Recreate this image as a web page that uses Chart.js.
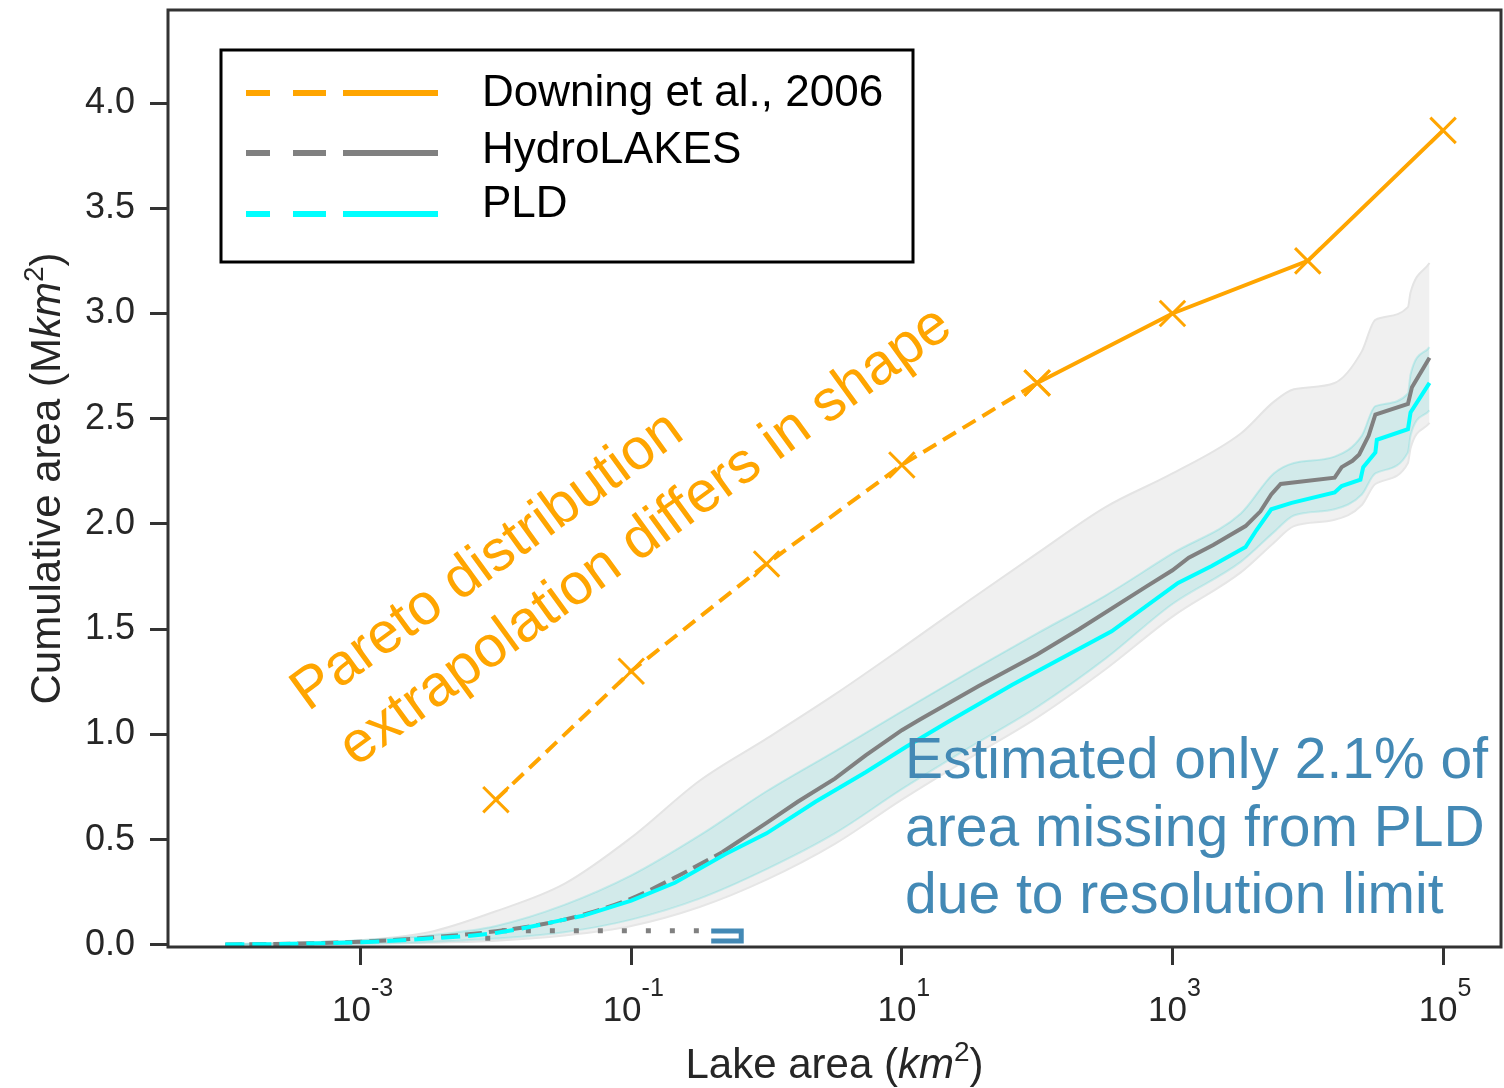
<!DOCTYPE html>
<html>
<head>
<meta charset="utf-8">
<title>Cumulative lake area</title>
<script src="https://cdn.jsdelivr.net/npm/chart.js@4/dist/chart.umd.min.js"></script>
<style>
  html, body { margin: 0; padding: 0; background: #fff; }
  #wrap { width: 1504px; height: 1088px; }
</style>
</head>
<body>
<div id="wrap"><canvas id="cumChart" width="1504" height="1088"></canvas></div>
<script>
// -- Data (lake area in km², cumulative area in million km²) --
const xTickValues = [1e-3, 1e-1, 1e1, 1e3, 1e5];
const yTickValues = [0, 0.5, 1, 1.5, 2, 2.5, 3, 3.5, 4];

// Downing et al. 2006 size classes (Pareto extrapolation below 100 km²)
const downingArea = [1e-2, 1e-1, 1, 10, 100, 1e3, 1e4, 1e5];
const downingCum  = [0.69, 1.30, 1.81, 2.28, 2.67, 3.00, 3.25, 3.87];
const downingObservedFrom = 100;

// HydroLAKES median curve
const hydroArea = [1e-4, 3.2e-4, 1e-3, 3.2e-3, 1e-2, 3.2e-2, 0.1, 0.21, 0.47, 1, 1.7, 3.2, 5.4, 10, 13.5, 37, 100, 204, 631, 1000,
                   1320, 2000, 3470, 4470, 5370, 6310, 15800, 17800, 21400, 24000, 28200, 31600, 55000, 58900, 79400];
const hydroCum  = [0.002, 0.006, 0.015, 0.035, 0.065, 0.12, 0.22, 0.32, 0.44, 0.58, 0.68, 0.79, 0.90, 1.02, 1.07, 1.23, 1.38, 1.50, 1.70, 1.78,
                   1.84, 1.90, 1.99, 2.06, 2.14, 2.19, 2.22, 2.27, 2.30, 2.33, 2.42, 2.52, 2.57, 2.65, 2.79];
const hydroObservedFrom = 0.47;

// PLD median curve
const pldArea = [1e-4, 3.2e-4, 1e-3, 3.2e-3, 1e-2, 0.045, 0.1, 0.21, 0.49, 1, 2.3, 5.4, 10.7, 22, 65, 355, 1100, 1950, 3470, 4170,
                 5370, 7600, 15800, 17800, 24500, 25700, 31600, 32400, 55000, 57500, 79400];
const pldCum  = [0.002, 0.005, 0.013, 0.03, 0.057, 0.14, 0.21, 0.295, 0.43, 0.53, 0.68, 0.82, 0.94, 1.06, 1.235, 1.49, 1.72, 1.80, 1.89, 1.97,
                 2.07, 2.10, 2.15, 2.18, 2.21, 2.27, 2.34, 2.40, 2.45, 2.53, 2.67];
const pldObservedFrom = 0.045;

// uncertainty ranges
const bandArea  = [1e-4, 3.2e-4, 1e-3, 3.2e-3, 1e-2, 3.2e-2, 0.1, 0.32, 1, 3.2, 10, 32, 100, 320, 1000, 3200, 5600, 7900, 15800, 25100, 31600, 55000, 57500, 79400];
const hydroHigh = [0.004, 0.01, 0.022, 0.06, 0.16, 0.29, 0.51, 0.78, 0.98, 1.19, 1.41, 1.64, 1.86, 2.08, 2.24, 2.43, 2.58, 2.64, 2.67, 2.82, 2.97, 3.03, 3.10, 3.24];
const hydroLow  = [0, 0.001, 0.004, 0.01, 0.02, 0.045, 0.09, 0.18, 0.31, 0.48, 0.69, 0.89, 1.08, 1.31, 1.56, 1.77, 1.91, 1.99, 2.02, 2.09, 2.19, 2.29, 2.36, 2.48];
const pldHigh   = [0.004, 0.01, 0.022, 0.045, 0.09, 0.19, 0.33, 0.52, 0.73, 0.92, 1.11, 1.30, 1.48, 1.66, 1.86, 2.05, 2.24, 2.29, 2.32, 2.42, 2.56, 2.62, 2.71, 2.84];
const pldLow    = [0, 0.002, 0.006, 0.014, 0.03, 0.06, 0.12, 0.22, 0.36, 0.53, 0.74, 0.94, 1.13, 1.36, 1.62, 1.82, 1.96, 2.04, 2.07, 2.14, 2.24, 2.34, 2.42, 2.54];

// missing area below the PLD resolution limit
const missingArea = [0.0087, 0.0087, 0.39];
const missingCum  = [0.02, 0.067, 0.067];
const bracketArea = [0.39, 0.65, 0.65, 0.39];
const bracketCum  = [0.066, 0.066, 0.019, 0.019];

// -- Colours / fonts --
const ORANGE = '#ffa500';
const GREY = '#808080';
const CYAN = '#00ffff';
const BLUE = '#4389b5';
const AXIS = '#333333';
const FONT = '"Liberation Sans", Arial, sans-serif';

const pts = (xs, ys) => xs.map((x, i) => ({ x: x, y: ys[i] }));
const before = (xs, ys, lim) => pts(xs, ys).filter(p => p.x <= lim);
const after = (xs, ys, lim) => pts(xs, ys).filter(p => p.x >= lim);

// draw a run of text pieces (normal / italic / superscript) centred on x
function drawRuns(ctx, runs, x, y) {
    let total = 0;
    runs.forEach(r => { ctx.font = r.font; r.w = ctx.measureText(r.t).width; total += r.w; });
    let cx = x - total / 2;
    runs.forEach(r => {
        ctx.font = r.font;
        ctx.fillText(r.t, cx, y + (r.dy || 0));
        cx += r.w;
    });
}

const annotate = {
    id: 'annotate',
    afterDraw(chart) {
        const { ctx, chartArea: a, scales: { x } } = chart;
        ctx.save();

        // frame
        ctx.strokeStyle = AXIS;
        ctx.lineWidth = 3;
        ctx.strokeRect(a.left, a.top, a.right - a.left, a.bottom - a.top);

        // x tick labels as powers of ten
        ctx.fillStyle = '#262626';
        ctx.textAlign = 'left';
        ctx.textBaseline = 'alphabetic';
        xTickValues.forEach(v => {
            const px = x.getPixelForValue(v);
            const e = Math.round(Math.log10(v));
            drawRuns(ctx, [
                { t: '10', font: '35px ' + FONT },
                { t: (e < 0 ? '-' : '') + Math.abs(e), font: '25px ' + FONT, dy: -25 }
            ], px + 2, 1021);
        });

        // axis titles
        const big = '42px ' + FONT, ital = 'italic 42px ' + FONT, sup = '28px ' + FONT;
        drawRuns(ctx, [
            { t: 'Lake area (', font: big },
            { t: 'km', font: ital },
            { t: '2', font: sup, dy: -17 },
            { t: ')', font: big }
        ], (a.left + a.right) / 2, 1078);

        ctx.save();
        ctx.translate(45, (a.top + a.bottom) / 2);
        ctx.rotate(-Math.PI / 2);
        drawRuns(ctx, [
            { t: 'Cumulative area (M', font: big },
            { t: 'km', font: ital },
            { t: '2', font: sup, dy: -17 },
            { t: ')', font: big }
        ], 0, 15);
        ctx.restore();

        // Pareto annotation
        ctx.save();
        ctx.fillStyle = ORANGE;
        ctx.font = '58px ' + FONT;
        ctx.translate(308, 712);
        ctx.rotate(-36 * Math.PI / 180);
        ctx.fillText('Pareto distribution', 0, 0);
        ctx.fillText('extrapolation differs in shape', 6, 73);
        ctx.restore();

        // resolution-limit annotation
        ctx.fillStyle = BLUE;
        ctx.font = '57px ' + FONT;
        ['Estimated only 2.1% of', 'area missing from PLD', 'due to resolution limit']
            .forEach((t, i) => ctx.fillText(t, 905, 778 + i * 67.5));

        // legend
        ctx.fillStyle = '#fff';
        ctx.fillRect(221, 50, 692, 212);
        ctx.strokeStyle = '#000';
        ctx.lineWidth = 3;
        ctx.strokeRect(221, 50, 692, 212);
        const rows = [
            { label: 'Downing et al., 2006', color: ORANGE, ly: 93, ty: 106 },
            { label: 'HydroLAKES', color: GREY, ly: 153, ty: 163 },
            { label: 'PLD', color: CYAN, ly: 214, ty: 217 }
        ];
        rows.forEach(r => {
            ctx.strokeStyle = r.color;
            ctx.lineWidth = 6;
            [[246, 270], [293, 326], [343, 438]].forEach(s => {
                ctx.beginPath();
                ctx.moveTo(s[0], r.ly);
                ctx.lineTo(s[1], r.ly);
                ctx.stroke();
            });
            ctx.fillStyle = '#000';
            ctx.font = '44px ' + FONT;
            ctx.fillText(r.label, 482, r.ty);
        });

        ctx.restore();
    }
};

const line = (data, color, width, dash, order, extra) => Object.assign({
    data: data,
    borderColor: color,
    backgroundColor: color,
    borderWidth: width,
    borderDash: dash,
    pointRadius: 0,
    showLine: true,
    fill: false,
    tension: 0,
    order: order
}, extra || {});

const smooth = { cubicInterpolationMode: 'monotone' };
const cross = { pointRadius: 18, pointStyle: 'crossRot', pointBorderWidth: 3 };

const chart = new Chart(document.getElementById('cumChart').getContext('2d'), {
    type: 'scatter',
    data: {
        datasets: [
            // HydroLAKES range
            line(pts(bandArea, hydroLow), '#e6e6e6', 2, [], 10, smooth),
            line(pts(bandArea, hydroHigh), '#e4e4e4', 2, [], 10, Object.assign({ fill: '-1', backgroundColor: '#f0f0f0' }, smooth)),
            // PLD range
            line(pts(bandArea, pldLow), 'rgba(0, 200, 200, 0.16)', 2, [], 9, smooth),
            line(pts(bandArea, pldHigh), 'rgba(0, 200, 200, 0.18)', 2, [], 9, Object.assign({ fill: '-1', backgroundColor: 'rgba(0, 200, 200, 0.12)' }, smooth)),
            // resolution-limit markers
            line(pts(missingArea, missingCum), GREY, 5, [5, 19], 6),
            line(pts(bracketArea, bracketCum), BLUE, 5, [], 6, { borderJoinStyle: 'miter' }),
            // HydroLAKES
            line(before(hydroArea, hydroCum, hydroObservedFrom), GREY, 4, [17, 7], 5, smooth),
            line(after(hydroArea, hydroCum, hydroObservedFrom), GREY, 4, [], 5),
            // PLD
            line(before(pldArea, pldCum, pldObservedFrom), CYAN, 4, [19, 8], 4, smooth),
            line(after(pldArea, pldCum, pldObservedFrom), CYAN, 4, [], 4),
            // Downing et al.
            line(before(downingArea, downingCum, downingObservedFrom), ORANGE, 4, [15, 8], 1, cross),
            line(after(downingArea, downingCum, downingObservedFrom), ORANGE, 4, [], 1, cross)
        ]
    },
    options: {
        responsive: false,
        animation: false,
        layout: { autoPadding: false, padding: { top: 10, right: 3, left: 0, bottom: 0 } },
        plugins: {
            legend: { display: false },
            tooltip: { enabled: false }
        },
        scales: {
            x: {
                type: 'logarithmic',
                min: 3.77e-5,
                max: 2.68e5,
                border: { display: false },
                grid: { drawOnChartArea: false, drawTicks: true, tickLength: 18, tickWidth: 3, tickColor: AXIS },
                ticks: { callback: () => '' },
                afterBuildTicks: s => { s.ticks = xTickValues.map(v => ({ value: v })); },
                afterFit: s => { s.height = 141; s.paddingLeft = 0; s.paddingRight = 0; }
            },
            y: {
                type: 'linear',
                min: -0.01,
                max: 4.442,
                border: { display: false },
                grid: { drawOnChartArea: false, drawTicks: true, tickLength: 18, tickWidth: 3, tickColor: AXIS },
                ticks: {
                    color: '#262626',
                    padding: 15,
                    font: { family: FONT, size: 36 },
                    callback: v => Number(v).toFixed(1)
                },
                afterBuildTicks: s => { s.ticks = yTickValues.map(v => ({ value: v })); },
                afterFit: s => { s.width = 168; s.paddingTop = 0; s.paddingBottom = 0; }
            }
        }
    },
    plugins: [annotate]
});
</script>
</body>
</html>
